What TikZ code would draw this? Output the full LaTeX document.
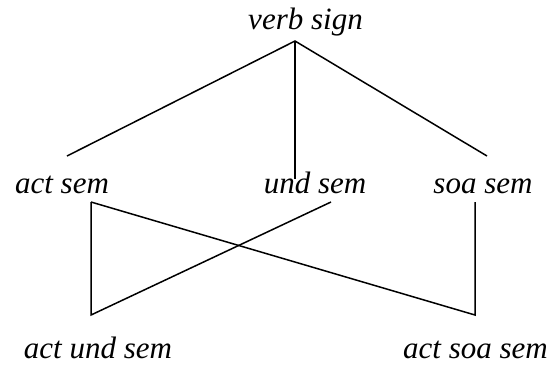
\documentclass[tikz,border=0pt]{standalone}
\usepackage{fontspec}
\setmainfont{Liberation Serif}
\begin{document}
\begin{tikzpicture}[x=1pt,y=-1pt,
  lbl/.style={anchor=base,inner sep=0pt,font=\fontsize{31}{37}\selectfont\itshape},
  edge/.style={line width=1.5pt,line join=miter}]
\useasboundingbox (0,0) rectangle (556,368);
% labels
\node[lbl] (vs)  at (305.5,29) {verb sign};
\node[lbl] (as)  at (62,193)   {act sem};
\node[lbl] (us)  at (315,193)  {und sem};
\node[lbl] (ss)  at (483,193)  {soa sem};
\node[lbl] (aus) at (98,358)   {act und sem};
\node[lbl] (ass) at (475.5,358) {act soa sem};
% connector ends
\coordinate (apex) at (295,41);
\coordinate (asT) at (67,156);
\coordinate (usT) at (295,179);
\coordinate (ssT) at (487,156);
\coordinate (asB) at (91,202);
\coordinate (usB) at (331,202);
\coordinate (ssB) at (475,202);
\coordinate (ausT) at (91,315);
\coordinate (assT) at (475,315);
% connectors
\draw[edge] (asT) -- (apex) -- (ssT);
\draw[edge] (apex) -- (usT);
\draw[edge] (asB) -- (ausT) -- (usB);
\draw[edge] (asB) -- (assT) -- (ssB);
\end{tikzpicture}
\end{document}
